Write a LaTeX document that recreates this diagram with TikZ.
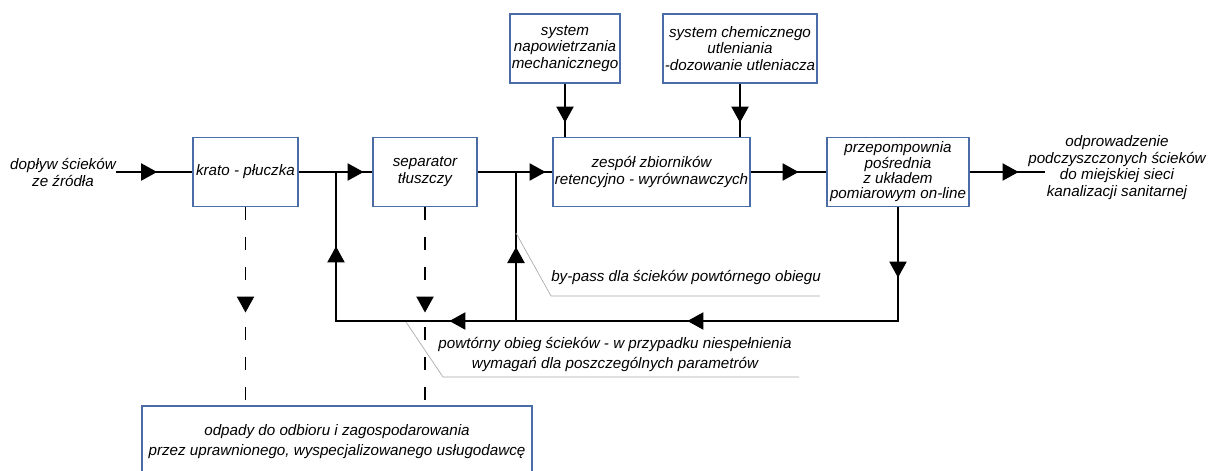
\documentclass[tikz,border=0pt]{standalone}
\usepackage{fontspec}
\setmainfont{Liberation Sans}
\usetikzlibrary{arrows.meta,decorations.markings}
\definecolor{boxblue}{HTML}{4A6DA7}
\definecolor{callgray}{HTML}{A8A8A8}
\begin{document}
\begin{tikzpicture}[x=0.75pt,y=-0.75pt,
  every node/.style={font=\fontsize{11.4}{12.6}\selectfont\itshape},
  blk/.style={draw=boxblue,line width=0.8pt,rectangle,inner sep=0pt,align=center},
  lbl/.style={inner sep=0pt,align=center},
  flow/.style={line width=0.9pt},
  dflow/.style={line width=0.9pt,dash pattern=on 9.75pt off 12.75pt},
  callout/.style={draw=callgray,line width=0.5pt},
  tip/.style={postaction={decorate,decoration={markings,mark=at position #1 with {\arrow{Triangle[length=12pt,width=13pt]}}}}}]
\useasboundingbox (0,0) rectangle (1210,471);

\node[blk,minimum width=78.75pt,minimum height=51.75pt] (krato) at (245.5,172) {krato - płuczka};
\node[blk,minimum width=78pt,minimum height=51.75pt] (sep) at (425,172) {separator\\tłuszczy};
\node[blk,minimum width=147.75pt,minimum height=51.75pt] (zesp) at (651.5,172) {zespół zbiorników\\retencyjno - wyrównawczych};
\node[blk,minimum width=82.5pt,minimum height=51.75pt] (napow) at (565,48.5) {system\\napowietrzania\\mechanicznego};
\node[blk,minimum width=115.5pt,minimum height=51.75pt] (chem) at (740,48.5) {system chemicznego\\utleniania\\-dozowanie utleniacza};
\node[blk,minimum width=106.5pt,minimum height=51.75pt,font=\fontsize{11.4}{11.5}\selectfont\itshape] (przep) at (898,172) {przepompownia\\pośrednia\\z układem\\pomiarowym on-line};
\node[blk,minimum width=292.5pt,minimum height=54pt,font=\fontsize{11.4}{15}\selectfont\itshape] (odp) at (337,442) {odpady do odbioru i zagospodarowania\\przez uprawnionego, wyspecjalizowanego usługodawcę};

\node[lbl] (in) at (63,172.5) {dopływ ścieków\\ze źródła};
\node[lbl] (out) at (1117,167.5) {odprowadzenie\\podczyszczonych ścieków\\do miejskiej sieci\\kanalizacji sanitarnej};
\coordinate (outend) at (1045,172);
\coordinate (j1) at (336,172);
\coordinate (j2) at (516,172);
\coordinate (rb) at (336,321);
\coordinate (r2) at (516,321);

\draw[flow,tip=30.75pt] (in.east |- krato.west) -- (krato.west);
\draw[flow,tip=48.75pt] (krato.east) -- (sep.west);
\draw[flow,tip=51pt] (sep.east) -- (zesp.west);
\draw[flow,tip=36pt] (zesp.east) -- (przep.west);
\draw[flow,tip=36.75pt] (przep.east) -- (outend);
\draw[flow,tip=29.25pt] (napow.south) -- (napow.south |- zesp.north);
\draw[flow,tip=29.25pt] (chem.south) -- (chem.south |- zesp.north);
\draw[flow,tip=52.9pt,tip=243.4pt,tip=421.9pt,tip=562.9pt] (przep.south) -- (przep.south |- rb) -- (rb) -- (j1);
\draw[flow,tip=55.5pt] (r2) -- (j2);
\draw[dflow,tip=79.1pt] (krato.south) -- (krato.south |- odp.north);
\draw[dflow,tip=79.1pt] (sep.south) -- (sep.south |- odp.north);

\coordinate (bp0) at (516,233);
\coordinate (bp1) at (551,296);
\coordinate (bp2) at (820,296);
\draw[callout] (bp0) -- (bp1) -- (bp2);
\node[lbl,anchor=west] (bplbl) at (551,277) {by-pass dla ścieków powtórnego obiegu};

\coordinate (rc0) at (406,322);
\coordinate (rc1) at (443,377);
\coordinate (rc2) at (799,377);
\draw[callout] (rc0) -- (rc1) -- (rc2);
\node[lbl,font=\fontsize{11.4}{15}\selectfont\itshape] (rclbl) at (615,354) {powtórny obieg ścieków - w przypadku niespełnienia\\wymagań dla poszczególnych parametrów};
\end{tikzpicture}
\end{document}
